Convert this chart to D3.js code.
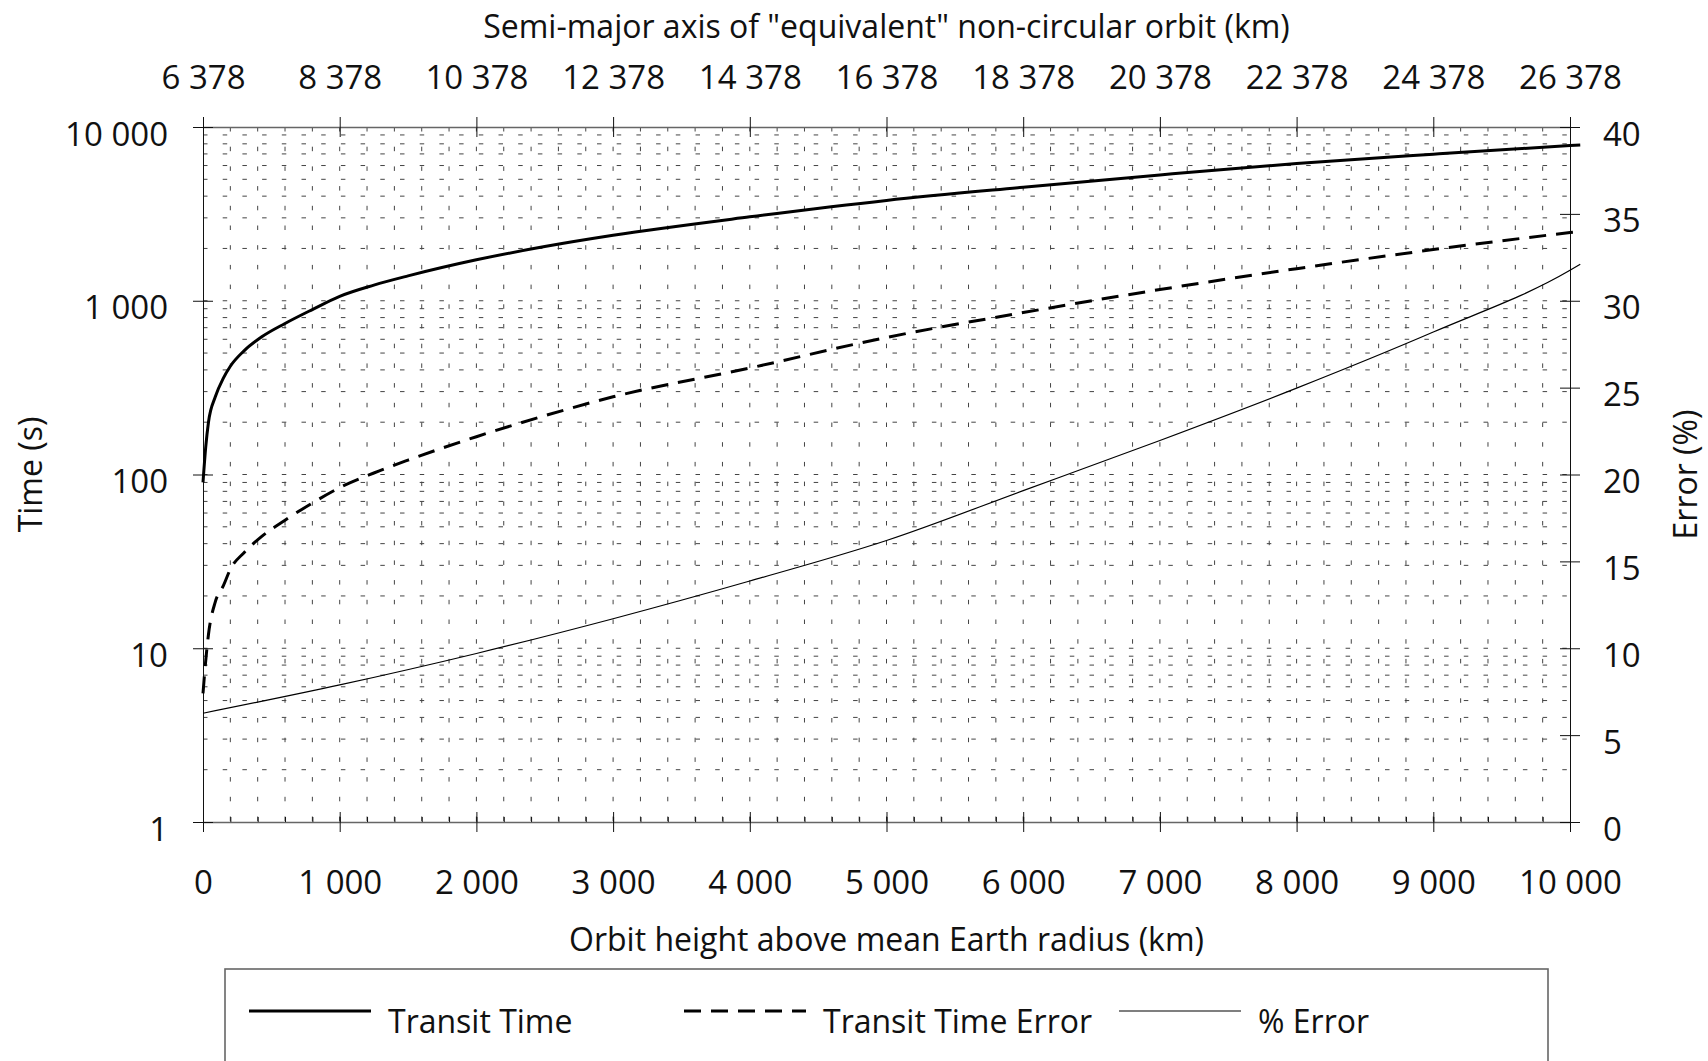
<!DOCTYPE html>
<html>
<head>
<meta charset="utf-8">
<script src="https://cdn.jsdelivr.net/npm/d3@7"></script>
<style>
  body { margin: 0; background: #fff; }
  svg text { font-family: "Open Sans", sans-serif; fill: #111; }
</style>
</head>
<body>
<div id="chart"></div>
<script>
// orbit height above mean Earth radius (km)
var heights = [0, 20, 40, 90, 150, 200, 300, 430, 600, 800, 1000, 1250, 1500, 2000, 2500, 3000, 4000, 5000, 6000, 7000, 8000, 9000, 10000, 10075];
// transit time (s)
var transitTime = [90, 144, 200, 280, 360, 420, 515, 620, 740, 890, 1060, 1230, 1390, 1720, 2050, 2380, 3040, 3780, 4500, 5300, 6170, 6980, 7820, 7880];
// transit time error (s)
var transitError = [5.5, 8.5, 12, 18.5, 23, 28.5, 35.5, 44, 54.6, 68.5, 84, 102, 121, 165, 218, 280, 410, 615, 855, 1160, 1530, 1970, 2470, 2510];
// % error (right axis)
var errHeights = [0, 1000, 2000, 3000, 4000, 5000, 6000, 7000, 8000, 9000, 10000, 10075];
var pctError = [6.26, 7.89, 9.7, 11.7, 13.87, 16.2, 19.07, 21.96, 24.97, 28.2, 31.75, 32.1];

// tick labels
var xTicks = d3.range(0, 10001, 1000);
var topTicks = d3.range(6378, 26379, 2000);
var yTicks = [1, 10, 100, 1000, 10000];
var errTicks = d3.range(0, 41, 5);
var seriesNames = ["Transit Time", "Transit Time Error", "% Error"];

// set the dimensions and margins of the graph
var margin = { top: 127, right: 138, bottom: 239, left: 203 },
  width = 1708 - margin.left - margin.right,
  height = 1061 - margin.top - margin.bottom;

var svg = d3
  .select("#chart")
  .append("svg")
  .attr("width", width + margin.left + margin.right)
  .attr("height", height + margin.top + margin.bottom)
  .append("g")
  .attr("transform", "translate(" + margin.left + "," + margin.top + ")");

var fmt = d3
  .formatLocale({ decimal: ".", thousands: " ", grouping: [3], currency: ["", ""] })
  .format(",");

// scales
var x = d3.scaleLinear().domain([0, 10000]).range([0, width]);
var xTop = d3.scaleLinear().domain([6378, 26378]).range([0, width]);
var y = d3.scaleLog().domain([1, 10000]).range([height, 0]);
var yErr = d3.scaleLinear().domain([0, 40]).range([height, 0]);

// dashed grid
var grid = svg.append("g").attr("stroke", "#444").attr("stroke-width", 1).attr("stroke-dasharray", "4.5,15.2");
grid
  .selectAll(".hgrid")
  .data(y.ticks().filter(function (d) { return d > 1 && d < 10000; }))
  .enter()
  .append("line")
  .attr("x1", 0)
  .attr("x2", width)
  .attr("y1", function (d) { return y(d); })
  .attr("y2", function (d) { return y(d); });
grid
  .selectAll(".vgrid")
  .data(x.ticks(50).filter(function (d) { return d > 0 && d < 10000; }))
  .enter()
  .append("line")
  .attr("y1", 0)
  .attr("y2", height)
  .attr("x1", function (d) { return x(d); })
  .attr("x2", function (d) { return x(d); });

function styleAxis(g) {
  g.attr("font-size", null).attr("font-family", null);
  g.selectAll(".tick line").attr("stroke", "#111");
  g.selectAll(".tick text").style("font-size", "33px");
}

// bottom axis
var xAxis = svg
  .append("g")
  .attr("transform", "translate(0," + height + ")")
  .call(d3.axisBottom(x).tickValues(xTicks).tickFormat(fmt).tickSizeOuter(0));
styleAxis(xAxis);
xAxis.select(".domain").attr("stroke", "#666").attr("stroke-width", 1.6);
xAxis.selectAll(".tick line").attr("y1", -10).attr("y2", 10);
xAxis.selectAll(".tick text").attr("y", 72).attr("dy", null);

// bottom minor ticks
svg
  .append("g")
  .attr("transform", "translate(0," + height + ")")
  .call(d3.axisBottom(x).ticks(50).tickSize(-5).tickFormat("").tickSizeOuter(0))
  .call(function (g) {
    g.select(".domain").remove();
    g.selectAll(".tick line").attr("stroke", "#111");
  });

// top axis
var topAxis = svg
  .append("g")
  .call(d3.axisTop(xTop).tickValues(topTicks).tickFormat(fmt).tickSizeOuter(0));
styleAxis(topAxis);
topAxis.select(".domain").attr("stroke", "#666").attr("stroke-width", 1.6);
topAxis.selectAll(".tick line").attr("y1", -10).attr("y2", 10);
topAxis.selectAll(".tick text").attr("y", -38).attr("dy", null);

// left axis
var yAxis = svg
  .append("g")
  .call(d3.axisLeft(y).tickValues(yTicks).tickFormat(fmt).tickSizeOuter(0));
styleAxis(yAxis);
yAxis.select(".domain").attr("stroke", "#111");
yAxis.selectAll(".tick line").attr("x1", -10).attr("x2", 10);
yAxis.selectAll(".tick text").attr("x", -35).attr("dy", 18);

// right axis
var errAxis = svg
  .append("g")
  .attr("transform", "translate(" + width + ",0)")
  .call(d3.axisRight(yErr).tickValues(errTicks).tickSizeOuter(0));
styleAxis(errAxis);
errAxis.select(".domain").attr("stroke", "#111");
errAxis.selectAll(".tick line").attr("x1", -10).attr("x2", 10);
errAxis.selectAll(".tick text").attr("x", 33).attr("dy", 18);

// lines
var lineLog = d3
  .line()
  .x(function (d) { return x(d[0]); })
  .y(function (d) { return y(d[1]); })
  .curve(d3.curveMonotoneX);
var lineErr = d3
  .line()
  .x(function (d) { return x(d[0]); })
  .y(function (d) { return yErr(d[1]); })
  .curve(d3.curveMonotoneX);

var styles = [
  { width: 3, dash: null },
  { width: 3, dash: "17,10" },
  { width: 1.2, dash: null }
];

svg.append("path")
  .datum(d3.zip(heights, transitTime))
  .attr("fill", "none")
  .attr("stroke", "#000")
  .attr("stroke-width", styles[0].width)
  .attr("d", lineLog);

svg.append("path")
  .datum(d3.zip(heights, transitError))
  .attr("fill", "none")
  .attr("stroke", "#000")
  .attr("stroke-width", styles[1].width)
  .attr("stroke-dasharray", styles[1].dash)
  .attr("d", lineLog);

svg.append("path")
  .datum(d3.zip(errHeights, pctError))
  .attr("fill", "none")
  .attr("stroke", "#000")
  .attr("stroke-width", styles[2].width)
  .attr("d", lineErr);

// axis titles
svg.append("text")
  .attr("x", width / 2)
  .attr("y", -89)
  .attr("text-anchor", "middle")
  .style("font-size", "32px")
  .text('Semi-major axis of "equivalent" non-circular orbit (km)');

svg.append("text")
  .attr("x", width / 2)
  .attr("y", height + 129)
  .attr("text-anchor", "middle")
  .style("font-size", "32px")
  .text("Orbit height above mean Earth radius (km)");

svg.append("text")
  .attr("transform", "rotate(-90)")
  .attr("x", -height / 2)
  .attr("y", -161)
  .attr("text-anchor", "middle")
  .style("font-size", "32px")
  .text("Time (s)");

svg.append("text")
  .attr("transform", "rotate(-90)")
  .attr("x", -height / 2)
  .attr("y", width + 127)
  .attr("text-anchor", "middle")
  .style("font-size", "32px")
  .text("Error (%)");

// legend
var legend = svg.append("g").attr("transform", "translate(22," + (height + 147) + ")");
legend.append("rect")
  .attr("x", 0)
  .attr("y", 0)
  .attr("width", 1323)
  .attr("height", 200)
  .attr("fill", "none")
  .attr("stroke", "#666")
  .attr("stroke-width", 1.6);

var items = legend
  .selectAll(".item")
  .data(seriesNames)
  .enter()
  .append("g")
  .attr("transform", function (d, i) { return "translate(" + (24 + i * 435) + ",42)"; });
items.append("line")
  .attr("x1", 0)
  .attr("x2", 122)
  .attr("stroke", "#000")
  .attr("stroke-width", function (d, i) { return styles[i].width; })
  .attr("stroke-dasharray", function (d, i) { return styles[i].dash; });
items.append("text")
  .attr("x", 139)
  .attr("y", 22)
  .style("font-size", "32px")
  .text(function (d) { return d; });
</script>
</body>
</html>
